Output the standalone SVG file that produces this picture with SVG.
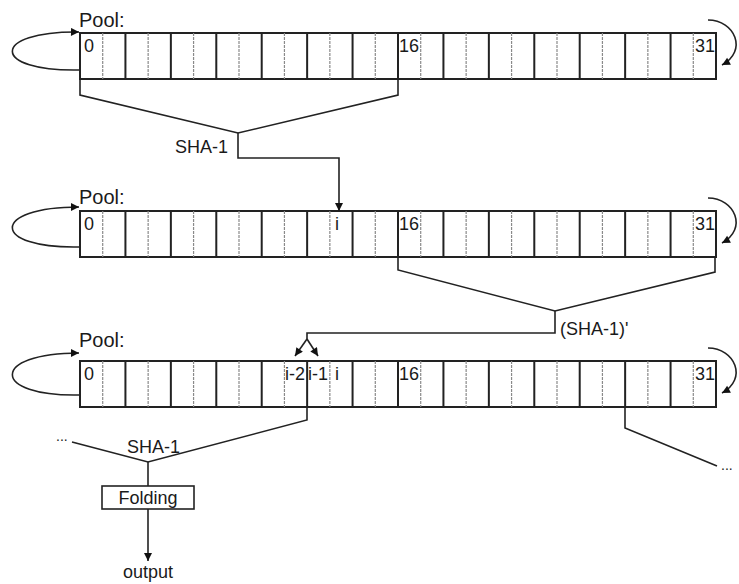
<svg xmlns="http://www.w3.org/2000/svg" xmlns:xlink="http://www.w3.org/1999/xlink" width="739" height="584" viewBox="0 0 739 584">
<style>
text{font-family:"Liberation Sans",Arial,sans-serif;fill:#1a1a1a}
.lbl{font-size:18px}
.pool{font-size:20px}
.dk{stroke:#222;stroke-width:2;fill:none}
.lt{stroke:#8a8a8a;stroke-width:1.2;stroke-dasharray:3 1;fill:none}
.ln{stroke:#222;stroke-width:1.6;fill:none}
</style>
<defs>
<marker id="ah" viewBox="0 0 10 10" refX="10" refY="5" markerWidth="10" markerHeight="8" markerUnits="userSpaceOnUse" orient="auto">
<path d="M0,0 L10,5 L0,10 z" fill="#111"/>
</marker>
<g id="cells">
<rect x="80" y="0" width="636" height="46" fill="#fff" stroke="#222" stroke-width="2"/>
<path class="lt" d="M102.71,0V46M148.14,0V46M193.57,0V46M239,0V46M284.43,0V46M329.86,0V46M375.29,0V46M420.71,0V46M466.14,0V46M511.57,0V46M557,0V46M602.43,0V46M647.86,0V46M693.29,0V46"/>
<path class="dk" d="M125.43,0V46M170.86,0V46M216.29,0V46M261.71,0V46M307.14,0V46M352.57,0V46M398,0V46M443.43,0V46M488.86,0V46M534.29,0V46M579.71,0V46M625.14,0V46M670.57,0V46"/>
</g>
</defs>
<g id="pool1">
<text class="pool" x="79" y="27">Pool:</text>
<use xlink:href="#cells" href="#cells" transform="translate(0,33)"/>
<text class="lbl" x="84" y="52">0</text>
<text class="lbl" x="399" y="52">16</text>
<text class="lbl" x="695" y="52">31</text>
</g>
<g id="pool2">
<text class="pool" x="79" y="204">Pool:</text>
<use xlink:href="#cells" href="#cells" transform="translate(0,211)"/>
<text class="lbl" x="84" y="230">0</text>
<text class="lbl" x="335" y="230">i</text>
<text class="lbl" x="399" y="230">16</text>
<text class="lbl" x="695" y="230">31</text>
</g>
<g id="pool3">
<text class="pool" x="79" y="347">Pool:</text>
<use xlink:href="#cells" href="#cells" transform="translate(0,361)"/>
<text class="lbl" x="84" y="380">0</text>
<text class="lbl" x="285" y="380">i-2</text>
<text class="lbl" x="308" y="380">i-1</text>
<text class="lbl" x="335" y="380">i</text>
<text class="lbl" x="399" y="380">16</text>
<text class="lbl" x="695" y="380">31</text>
</g>
<g id="folding">
<rect x="102" y="486" width="92" height="23" fill="#fff" stroke="#222" stroke-width="1.6"/>
<text class="lbl" x="148" y="504" text-anchor="middle">Folding</text>
</g>
<g id="labels">
<text class="lbl" x="175" y="153">SHA-1</text>
<text class="lbl" x="560" y="335">(SHA-1)'</text>
<text class="lbl" x="127" y="453">SHA-1</text>
<text class="lbl" x="148" y="578" text-anchor="middle">output</text>
<text class="lbl" x="56" y="441" style="font-size:14px">...</text>
<text class="lbl" x="721" y="470" style="font-size:14px">...</text>
</g>
<g id="connectors">
<path class="ln" marker-end="url(#ah)" d="M80,70 C -10,72 -10,31 79,32"/>
<path class="ln" marker-end="url(#ah)" d="M708,20 C 735,20 748,51 722,65"/>
<path class="ln" marker-end="url(#ah)" d="M80,247 C -10,249 -10,207 79,207"/>
<path class="ln" marker-end="url(#ah)" d="M708,198 C 735,198 748,229 722,243"/>
<path class="ln" marker-end="url(#ah)" d="M80,395 C -10,397 -10,353 79,353"/>
<path class="ln" marker-end="url(#ah)" d="M708,348 C 735,348 748,379 722,393"/>
<path class="ln" d="M80,79 V95 L238,133 L398,95 V79"/>
<path class="ln" marker-end="url(#ah)" d="M238,133 V158 H339 V211"/>
<path class="ln" d="M398,257 V270 L555,311 L715,272 V257"/>
<path class="ln" d="M555,311 V333 H307 V339"/>
<path class="ln" marker-end="url(#ah)" d="M307,339 L295,356"/>
<path class="ln" marker-end="url(#ah)" d="M307,339 L318,356"/>
<path class="ln" d="M307,407 V420 L148,462 L72,442"/>
<path class="ln" d="M625,407 V428 L717,466"/>
<path class="ln" d="M148,462 V486"/>
<path class="ln" marker-end="url(#ah)" d="M148,509 V561"/>
</g>
</svg>
